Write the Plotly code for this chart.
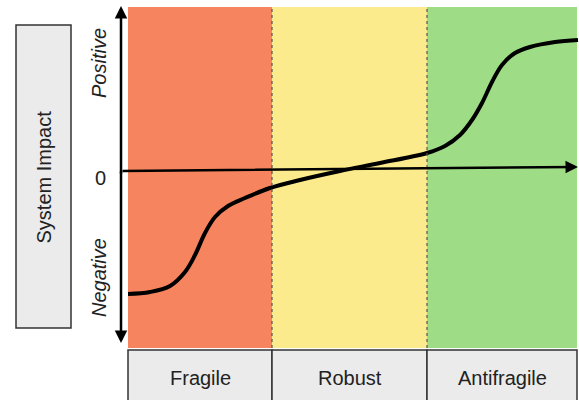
import plotly.graph_objects as go

# x positions in chart units (0..579), impact = height above the zero line
curve_x = [128, 150, 170, 185, 195, 205, 215, 228, 245, 270, 300, 340, 380,
           427, 445, 460, 472, 482, 492, 502, 515, 530, 555, 578]
curve_y = [-123, -121, -115, -101, -84, -62, -46, -35, -27, -17, -9, 0, 8,
           18, 25, 36, 51, 68, 89, 106, 118, 124, 129, 131]

region_names = ["Fragile", "Robust", "Antifragile"]
region_edges = [128, 272, 427, 577]
region_colors = ["#F6845F", "#FCEB8C", "#9EDD86"]

Y_TOP, Y_BOT = 171, -229  # visible impact range

fig = go.Figure()

fig.add_trace(go.Scatter(
    x=curve_x, y=curve_y, mode="lines",
    line=dict(color="black", width=4, shape="spline", smoothing=1.0),
    showlegend=False, hoverinfo="skip",
))

shapes = []
annotations = []
label_font = dict(size=20, color="#222222")

# coloured zones + label boxes underneath
for i, name in enumerate(region_names):
    x0, x1 = region_edges[i], region_edges[i + 1]
    shapes.append(dict(type="rect", xref="x", yref="y", x0=x0, x1=x1,
                       y0=Y_TOP - 348, y1=Y_TOP - 7, fillcolor=region_colors[i],
                       line_width=0, layer="below"))
    shapes.append(dict(type="rect", xref="x", yref="y", x0=x0, x1=x1,
                       y0=Y_TOP - 402, y1=Y_TOP - 350, fillcolor="#EBEBEB",
                       line=dict(color="#333333", width=1.5), layer="below"))
    annotations.append(dict(x=(x0 + x1) / 2, y=Y_TOP - 378, xref="x", yref="y",
                            text=name, showarrow=False, font=label_font))

# dashed boundaries
for xb in region_edges[1:3]:
    shapes.append(dict(type="line", xref="x", yref="y", x0=xb, x1=xb,
                       y0=Y_TOP - 348, y1=Y_TOP - 7,
                       line=dict(color="#555555", width=1.2, dash="dot")))

# "System Impact" box
shapes.append(dict(type="rect", xref="x", yref="y", x0=16, x1=71,
                   y0=Y_TOP - 328, y1=Y_TOP - 25, fillcolor="#EBEBEB",
                   line=dict(color="#333333", width=1.5)))
annotations.append(dict(x=43.5, y=Y_TOP - 177, xref="x", yref="y",
                        text="System Impact", textangle=-90, showarrow=False,
                        font=label_font))

# axis labels
annotations += [
    dict(x=99, y=Y_TOP - 63, xref="x", yref="y", text="<i>Positive</i>",
         textangle=-90, showarrow=False, font=label_font),
    dict(x=99, y=Y_TOP - 278, xref="x", yref="y", text="<i>Negative</i>",
         textangle=-90, showarrow=False, font=label_font),
    dict(x=100, y=Y_TOP - 178, xref="x", yref="y", text="0",
         showarrow=False, font=label_font),
]

# arrows: vertical double-headed, horizontal single
arrow = dict(xref="x", yref="y", axref="x", ayref="y", showarrow=True,
             arrowhead=2, arrowsize=1, arrowwidth=2.5, arrowcolor="black",
             standoff=0, startstandoff=0, text="")
annotations.append(dict(arrow, x=121, y=Y_TOP - 6, ax=121, ay=Y_TOP - 175))
annotations.append(dict(arrow, x=121, y=Y_TOP - 343, ax=121, ay=Y_TOP - 170))
annotations.append(dict(arrow, x=578, y=Y_TOP - 167, ax=121, ay=Y_TOP - 171))

fig.update_layout(
    width=579, height=400,
    margin=dict(l=0, r=0, t=0, b=0),
    paper_bgcolor="white", plot_bgcolor="white",
    font=dict(family="Liberation Sans, Arial, sans-serif"),
    xaxis=dict(range=[0, 579], visible=False, fixedrange=True),
    yaxis=dict(range=[Y_BOT, Y_TOP], visible=False, fixedrange=True),
    shapes=shapes, annotations=annotations,
)

fig.write_html("out.html", config={"displayModeBar": False},
               post_script="document.body.style.margin='0';")
